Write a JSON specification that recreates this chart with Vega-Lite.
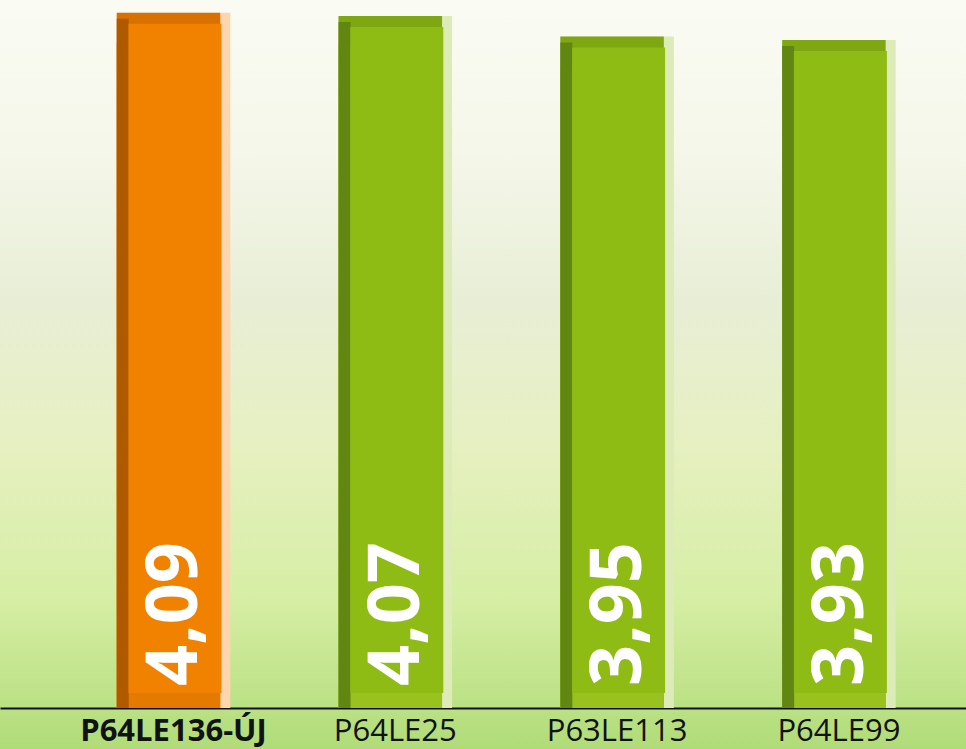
{
  "$schema": "https://vega.github.io/schema/vega-lite/v6.json",
  "width": 966,
  "height": 749,
  "padding": 0,
  "autosize": "none",
  "background": "#e6efcf",
  "config": {
    "view": {
      "stroke": null,
      "fill": {
        "gradient": "linear",
        "x1": 0, "y1": 0, "x2": 0, "y2": 1,
        "stops": [
          {"offset": 0, "color": "#fafbf3"},
          {"offset": 0.2, "color": "#f5f7ea"},
          {"offset": 0.4, "color": "#e8eed6"},
          {"offset": 0.6, "color": "#e6f0c0"},
          {"offset": 0.8, "color": "#d6eea4"},
          {"offset": 1, "color": "#b0dc78"}
        ]
      }
    },
    "locale": {"number": {"decimal": ",", "thousands": ".", "grouping": [3], "currency": ["", ""]}},
    "font": "Open Sans"
  },
  "data": {
    "values": [
      {"fajta": "P64LE136-ÚJ", "ertek": 4.09, "uj": true},
      {"fajta": "P64LE25", "ertek": 4.07, "uj": false},
      {"fajta": "P63LE113", "ertek": 3.95, "uj": false},
      {"fajta": "P64LE99", "ertek": 3.93, "uj": false}
    ]
  },
  "encoding": {
    "x": {
      "field": "fajta",
      "type": "nominal",
      "sort": null,
      "scale": {"paddingInner": 0.488, "paddingOuter": 0.4216, "align": 0.624},
      "axis": {
        "title": null,
        "orient": "bottom",
        "offset": -41,
        "domainColor": "#111111",
        "domainWidth": 2,
        "ticks": false,
        "grid": false,
        "labelAngle": 0,
        "labelLimit": 0,
        "labelFont": "Open Sans",
        "labelFontSize": 31,
        "labelColor": "#111111",
        "labelPadding": 8,
        "labelFontWeight": {"condition": {"test": "datum.value === 'P64LE136-ÚJ'", "value": "bold"}, "value": "normal"}
      }
    },
    "y": {
      "field": "ertek",
      "type": "quantitative",
      "scale": {"domain": [-0.2412, 4.1647], "nice": false},
      "axis": null
    }
  },
  "layer": [
    {
      "mark": {"type": "bar"},
      "encoding": {
        "y2": {"datum": 0},
        "color": {"condition": {"test": "datum.uj", "value": "#fdd6b0"}, "value": "#dcebb8"}
      }
    },
    {
      "mark": {"type": "bar", "width": 103.5, "xOffset": -5},
      "encoding": {
        "y2": {"datum": 0},
        "color": {"condition": {"test": "datum.uj", "value": "#d97100"}, "value": "#7ea712"}
      }
    },
    {
      "mark": {"type": "bar", "width": 103.5, "xOffset": -5, "yOffset": 30},
      "encoding": {
        "y2": {"datum": 0},
        "color": {"condition": {"test": "datum.uj", "value": "#e47a00"}, "value": "#9ac21e"}
      }
    },
    {
      "mark": {"type": "bar", "width": 12, "xOffset": -50.75, "yOffset": 6},
      "encoding": {
        "y2": {"datum": 0},
        "color": {"condition": {"test": "datum.uj", "value": "#b05a00"}, "value": "#628612"}
      }
    },
    {
      "mark": {"type": "bar", "width": 93, "xOffset": 1.5, "yOffset": 11, "y2Offset": -15},
      "encoding": {
        "y2": {"datum": 0},
        "color": {"condition": {"test": "datum.uj", "value": "#f08200"}, "value": "#8fbb15"}
      }
    },
    {
      "mark": {
        "type": "text",
        "angle": 270,
        "align": "left",
        "baseline": "alphabetic",
        "font": "Open Sans",
        "fontSize": 72,
        "fontWeight": "bold",
        "fill": "#ffffff",
        "xOffset": 24,
        "yOffset": -22
      },
      "encoding": {
        "y": {"datum": 0, "type": "quantitative"},
        "text": {"field": "ertek", "type": "quantitative", "format": ".2f"}
      }
    }
  ]
}
